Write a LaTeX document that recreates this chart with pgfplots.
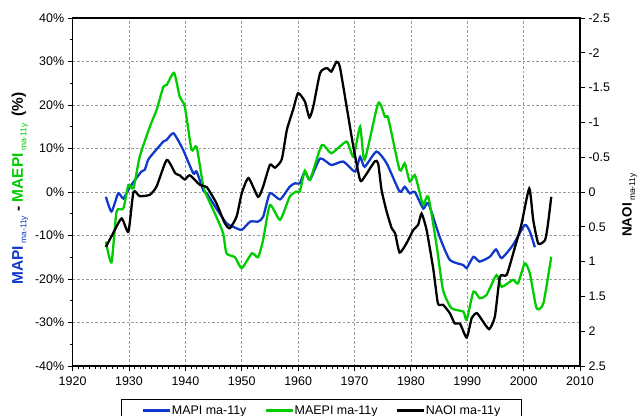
\documentclass[border=0pt]{standalone}
\usepackage{pgfplots}
\pgfplotsset{compat=1.18}
\usepackage{fontspec}
\setmainfont{Liberation Sans}
\definecolor{mapiblue}{RGB}{16,56,204}
\definecolor{maepigreen}{RGB}{0,204,0}
\pgfplotsset{
  every axis/.append style={
    scale only axis, width=507.4bp, height=348bp,
    at={(0,0)}, anchor=south west,
    xmin=1920, xmax=2010,
    /pgf/number format/assume math mode=true,
    tick label style={font=\fontsize{12.5}{14}\selectfont},
    tick align=outside,
    major tick length=5bp, minor tick length=3bp,
    every tick/.style={black, line width=0.8bp},
    axis line style={line width=1.2bp},
  }
}
\begin{document}
\begin{tikzpicture}
\useasboundingbox (-72.6bp,-50bp) rectangle (565.4bp,366bp);
\begin{axis}[
  ymin=-40, ymax=40,
  xtick={1920,1930,...,2010},
  minor x tick num=9,
  ytick={-40,-30,...,40},
  minor y tick num=1,
  xtick pos=bottom, ytick pos=left,
  x tick label style={/pgf/number format/1000 sep={}, yshift=-2.5bp},
  yticklabel={\pgfmathprintnumber{\tick}\%},
  grid=major,
  major grid style={gray!80, line width=0.7bp, dash pattern=on 2.5bp off 2bp},
  ylabel={\fontsize{15.5}{17}\selectfont\bfseries
    {\color{mapiblue}MAPI\,\raisebox{-3.5bp}{\fontsize{8.5}{9}\selectfont\mdseries ma-11y}} -
    {\color{maepigreen}MAEPI\,\raisebox{-3.5bp}{\fontsize{8.5}{9}\selectfont\mdseries ma-11y}}\,
    (\%)},
  ylabel style={at={(axis description cs:-0.104,0.51)}, anchor=center},
]
\addplot[mapiblue, line width=2.3pt, smooth, tension=0.35] coordinates {
(1925.9,-1.1) (1926.9,-4.5) (1928.1,-0.3) (1929.0,-1.5) (1930.2,1.2)
(1932.2,4.7) (1932.8,5.1) (1933.4,7.4) (1934.3,8.9) (1936.1,11.6) (1936.7,12.0)
(1937.9,13.5) (1939.6,9.7) (1941.4,4.3) (1942.0,4.7) (1943.2,0.3) (1943.8,-0.3)
(1945.5,-3.8) (1947.3,-7.2) (1948.5,-8.0) (1950.0,-8.7) (1951.5,-6.8) (1952.9,-6.8)
(1953.8,-5.7) (1955.0,-0.3) (1956.8,-1.7) (1958.5,1.2) (1959.4,2.0) (1960.3,2.0)
(1961.2,4.7) (1962.1,2.8) (1963.9,7.7) (1965.9,6.2) (1968.0,7.0) (1970.1,4.7)
(1971.0,8.1) (1971.8,5.8) (1973.9,9.3) (1975.7,6.6) (1978.0,0.1) (1978.9,1.2)
(1979.8,-0.3) (1980.7,0.0) (1982.2,-3.8) (1983.1,-2.6) (1985.1,-10.3) (1986.9,-15.6)
(1989.3,-16.8) (1989.9,-17.5) (1991.1,-14.9) (1992.2,-16.0) (1994.0,-14.9) (1995.1,-13.2)
(1996.1,-15.2) (1998.1,-12.2) (2000.2,-7.6) (2001.1,-9.1) (2002.0,-12.7)
};
\addplot[maepigreen, line width=2.3pt, smooth, tension=0.35] coordinates {
(1925.9,-11.4) (1926.9,-16.2) (1927.8,-4.5) (1929.0,-3.8) (1929.9,1.6) (1930.8,0.9)
(1931.9,8.1) (1933.7,15.0) (1934.9,18.9) (1936.1,24.2) (1936.7,24.6) (1938.0,27.4)
(1939.0,21.9) (1939.9,19.6) (1941.1,9.7) (1942.0,10.4) (1943.2,1.2) (1944.4,-2.6)
(1945.5,-5.7) (1946.7,-9.5) (1947.3,-14.1) (1948.8,-15.0) (1950.0,-17.5) (1951.8,-14.1)
(1952.9,-15.0) (1953.8,-11.0) (1955.0,-3.0) (1956.8,-6.4) (1958.5,-1.1) (1959.7,0.1)
(1960.3,0.1) (1961.2,4.9) (1962.1,2.8) (1964.2,10.8) (1965.9,8.9) (1968.6,11.6)
(1969.8,8.1) (1971.0,15.0) (1971.8,7.4) (1974.2,20.4) (1975.4,17.3) (1976.0,16.9)
(1978.0,5.1) (1978.9,6.6) (1979.8,2.4) (1980.7,3.9) (1981.6,-0.3) (1982.2,-3.0)
(1983.1,-1.1) (1984.6,-12.6) (1985.7,-22.5) (1987.2,-26.7) (1989.3,-27.5) (1989.9,-29.4)
(1991.1,-22.9) (1992.2,-24.4) (1993.4,-23.7) (1995.2,-19.1) (1996.1,-21.8) (1998.1,-20.2)
(1999.0,-21.0) (2000.2,-16.4) (2001.1,-18.7) (2002.3,-26.7) (2003.5,-25.6) (2004.9,-14.9)
};
\end{axis}
\begin{axis}[
  ymin=-2.5, ymax=2.5, y dir=reverse,
  hide x axis,
  axis y line*=right,
  ytick={-2.5,-2,...,2.5},
  ylabel={\fontsize{13.5}{15}\selectfont\bfseries NAOI\,\raisebox{-3.5bp}{\fontsize{8.5}{9}\selectfont\mdseries ma-11y}},
  ylabel style={at={(axis description cs:1.0976,0.4626)}, anchor=center},
  legend columns=3,
  legend style={at={(axis description cs:0.4905,-0.0948)}, anchor=north,
    draw=black, line width=0.8bp, font=\fontsize{12.5}{14}\selectfont,
    inner xsep=20bp, inner ysep=4bp,
    /tikz/every even column/.append style={column sep=17bp},
    nodes={inner xsep=1bp}},
  legend image code/.code={\draw[#1] (0bp,0bp) -- (27bp,0bp);},
]
\addlegendimage{mapiblue, line width=2.3pt}
\addlegendentry{MAPI ma-11y}
\addlegendimage{maepigreen, line width=2.3pt}
\addlegendentry{MAEPI ma-11y}
\addplot[black, line width=2.3pt, smooth, tension=0.35] coordinates {
(1925.9,0.79) (1927.2,0.59) (1928.7,0.38) (1929.9,0.57) (1930.8,0.0) (1931.9,0.06)
(1933.7,0.04) (1934.9,-0.08) (1936.7,-0.46) (1938.2,-0.27) (1939.0,-0.24) (1939.9,-0.18)
(1940.8,-0.24) (1942.6,-0.1) (1943.8,-0.07) (1945.5,0.16) (1947.0,0.45) (1947.9,0.52)
(1949.1,0.35) (1950.0,0.02) (1951.2,-0.2) (1952.9,0.07) (1953.8,-0.08) (1955.0,-0.39)
(1955.9,-0.35) (1957.1,-0.47) (1958.0,-0.89) (1959.1,-1.18) (1960.0,-1.42) (1961.2,-1.30)
(1962.0,-1.07) (1962.7,-1.23) (1963.9,-1.71) (1965.1,-1.78) (1965.9,-1.73) (1966.8,-1.87)
(1967.4,-1.80) (1968.6,-1.23) (1969.8,-0.65) (1971.0,-0.17) (1971.8,-0.22) (1973.6,-0.44)
(1974.2,-0.41) (1974.8,-0.03) (1975.7,0.28) (1976.6,0.52) (1977.2,0.59) (1978.0,0.87)
(1979.2,0.74) (1980.4,0.55) (1981.3,0.47) (1981.9,0.31) (1982.8,0.55) (1984.0,1.12)
(1984.8,1.60) (1985.7,1.62) (1986.9,1.74) (1987.8,1.89) (1988.7,1.89) (1989.9,2.09)
(1990.8,1.81) (1991.7,1.74) (1992.8,1.86) (1993.9,1.97) (1994.9,1.79) (1995.8,1.22)
(1997.0,1.19) (1998.4,0.81) (1999.6,0.47) (2001.0,-0.05) (2001.7,0.40) (2002.6,0.74)
(2003.8,0.69) (2004.3,0.47) (2004.9,0.07)
};
\addlegendentry{NAOI ma-11y}
\end{axis}
\end{tikzpicture}
\end{document}
